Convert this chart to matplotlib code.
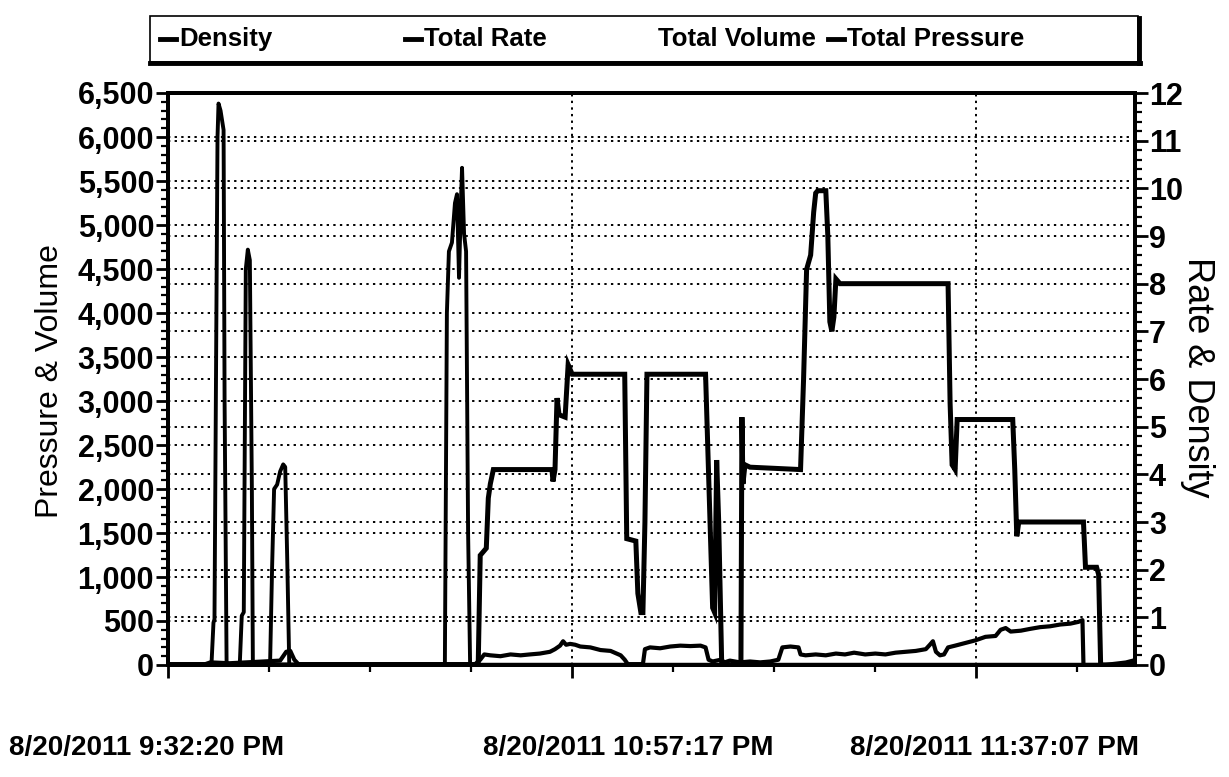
import matplotlib
matplotlib.use('Agg')
import matplotlib.pyplot as plt
from matplotlib.ticker import FuncFormatter, MultipleLocator, FixedLocator
from matplotlib.lines import Line2D
from matplotlib.patches import Rectangle

plt.rcParams['font.family'] = ['Liberation Sans', 'DejaVu Sans']
plt.rcParams['font.weight'] = 'bold'

# ---------------- data (elapsed minutes from chart start) ----------------
x_tick_labels = ["8/20/2011 9:32:20 PM", "8/20/2011 10:57:17 PM", "8/20/2011 11:37:07 PM"]

pressure_t = [0, 4.3, 4.5, 4.6, 4.9, 5.0, 5.2, 5.5, 5.6, 5.8, 7.1, 7.3, 7.5, 7.7, 7.9, 8.1, 8.3, 8.4,
              10.1, 10.3, 10.5, 10.8, 11.1, 11.4, 11.6, 11.8, 12.0,
              27.4, 27.6, 27.8, 28.1, 28.4, 28.6, 28.8, 29.0, 29.1, 29.3, 29.5, 29.7, 29.9, 95.7]
pressure_v = [0, 0, 480, 520, 6000, 6380, 6300, 6080, 3000, 0, 0, 560, 600, 4500, 4720, 4600, 2000, 0,
              0, 1100, 2000, 2050, 2200, 2280, 2250, 1200, 0,
              0, 4000, 4700, 4800, 5250, 5350, 4400, 5300, 5650, 4900, 4700, 1500, 0, 0]

rate_t = [0, 30.7, 30.9, 31.5, 31.7, 31.9, 32.2, 38.0, 38.1, 38.3, 38.5, 38.7, 39.3, 39.6, 40.0,
          45.2, 45.4, 46.3, 46.5, 46.8, 47.0, 47.2, 47.4, 53.2, 53.9, 54.1, 54.3, 54.5, 54.8,
          56.7, 56.8, 56.9, 57.1, 57.6, 62.6, 62.9, 63.2, 63.6, 63.9, 64.1, 64.3, 65.1, 65.3,
          65.5, 65.7, 65.9, 66.1, 66.5, 77.2, 77.4, 77.6, 77.9, 78.1, 83.6, 83.8, 84.0, 84.2,
          90.6, 90.8, 91.9, 92.1, 92.3, 95.7]
rate_v = [0, 0, 2.3, 2.45, 3.5, 3.8, 4.1, 4.1, 3.85, 4.1, 5.6, 5.25, 5.2, 6.3, 6.1,
          6.1, 2.65, 2.6, 1.5, 1.1, 1.1, 3.0, 6.1, 6.1, 1.2, 1.1, 4.3, 3.0, 0,
          0, 5.2, 3.8, 4.2, 4.15, 4.1, 6.0, 8.3, 8.6, 9.5, 9.9, 9.95, 9.95, 9.0,
          7.2, 7.0, 7.3, 8.1, 8.0, 8.0, 5.5, 4.2, 4.1, 5.15, 5.15, 4.1, 2.7, 3.0,
          3.0, 2.05, 2.05, 1.9, 0, 0]

volume_t = [0, 3.7, 4.2, 6.1, 11.1, 11.7, 12.1, 12.5, 12.9, 26.9, 30.4, 30.9, 31.3, 31.9, 32.9,
            33.9, 34.9, 35.8, 36.8, 37.8, 38.3, 38.8, 39.1, 39.4, 39.8, 40.3, 40.8, 41.8, 42.8,
            43.8, 44.8, 45.2, 45.5, 47.0, 47.2, 47.7, 48.7, 49.7, 50.7, 51.7, 52.7, 53.2, 53.5,
            53.9, 54.7, 55.1, 55.6, 56.6, 57.6, 58.6, 59.6, 60.4, 60.8, 61.6, 62.4, 62.6, 63.1,
            64.1, 65.1, 66.1, 67.0, 67.9, 69.0, 70.0, 71.0, 72.0, 73.0, 74.0, 75.0, 75.4, 75.7,
            76.0, 76.4, 76.8, 77.2, 77.9, 78.9, 79.9, 80.9, 81.9, 82.4, 82.9, 83.4, 84.4, 85.3,
            86.3, 87.3, 88.3, 89.3, 90.1, 90.5, 90.6, 95.7]
volume_v = [10, 10, 30, 20, 50, 150, 160, 60, 10, 10, 10, 60, 120, 110, 100,
            120, 110, 120, 130, 150, 180, 220, 270, 230, 240, 230, 210, 200, 170,
            160, 110, 60, 10, 10, 180, 200, 190, 210, 220, 215, 220, 200, 60,
            40, 60, 30, 50, 30, 40, 30, 40, 60, 200, 210, 200, 120, 110,
            120, 110, 130, 120, 140, 120, 130, 120, 140, 150, 160, 180, 230, 270,
            150, 110, 120, 200, 220, 250, 280, 320, 330, 400, 420, 380, 390, 410,
            430, 440, 460, 470, 490, 510, 0, 0]

density_t = [0, 92.8, 94.8, 95.7]
density_v = [0, 0, 0.05, 0.1]

legend_labels = ["Density", "Total Rate", "Total Volume", "Total Pressure"]

# ---------------- figure ----------------
W, H = 1229, 777
fig = plt.figure(figsize=(W / 100, H / 100), dpi=100)
ax = fig.add_axes([168 / W, 1 - 665 / H, (1135 - 168) / W, (665 - 93) / H])
ax2 = ax.twinx()

FS_TICK = 22
FS_X = 20
FS_LEG = 18.5

ax.plot(volume_t, volume_v, color='black', lw=3.0, zorder=3)
ax.plot(pressure_t, pressure_v, color='black', lw=2.8, zorder=3)
ax2.plot(rate_t, rate_v, color='black', lw=3.6, zorder=3, solid_joinstyle='miter')
ax2.plot(density_t, density_v, color='black', lw=3.2, zorder=3)

ax.set_xlim(0, 95.7)
ax.set_ylim(0, 6500)
ax2.set_ylim(0, 12)

ax.yaxis.set_major_locator(MultipleLocator(500))
ax.yaxis.set_minor_locator(MultipleLocator(100))
ax.yaxis.set_major_formatter(FuncFormatter(lambda v, p: f"{int(v):,}"))
ax2.yaxis.set_major_locator(MultipleLocator(1))
ax2.yaxis.set_minor_locator(MultipleLocator(0.2))

ax.xaxis.set_major_locator(FixedLocator([0, 40, 80]))
ax.xaxis.set_minor_locator(MultipleLocator(10))
ax.set_xticklabels([])

for a in (ax, ax2):
    a.tick_params(which='major', direction='out', length=9, width=2, labelsize=FS_TICK, pad=1)
    a.tick_params(which='minor', direction='out', length=5, width=1.6)
    for s in a.spines.values():
        s.set_linewidth(2.8)

dots = (0, (1.2, 2.2))
ax.grid(True, axis='y', which='major', color='black', ls=dots, lw=1.4)
ax.grid(True, axis='x', which='major', color='black', ls=dots, lw=1.4)
ax2.grid(True, axis='y', which='major', color='black', ls=dots, lw=1.4)
ax.set_axisbelow(True)
ax2.set_axisbelow(True)

# axis titles
fig.text(50 / W, 1 - 381 / H, "Pressure & Volume", fontsize=23, fontweight='normal',
         rotation=90, ha='center', va='center')
fig.text(1197 / W, 1 - 377 / H, "Rate & Density", fontsize=26, fontweight='normal',
         rotation=-90, ha='center', va='center')

# x labels
for lab, cx in zip(x_tick_labels, [147, 628, 995]):
    fig.text(cx / W, 1 - 748 / H, lab, fontsize=FS_X, ha='center', va='center')

# legend box
fig.add_artist(Rectangle((150 / W, 1 - 62 / H), (1138 - 150) / W, (62 - 16) / H,
                         transform=fig.transFigure, fill=False, lw=1.2, ec='black'))
fig.add_artist(Line2D([150 / W, 1140 / W], [1 - 63 / H, 1 - 63 / H], transform=fig.transFigure,
                      color='black', lw=3.5))
fig.add_artist(Line2D([1139 / W, 1139 / W], [1 - 63 / H, 1 - 18 / H], transform=fig.transFigure,
                      color='black', lw=3.5))
ly = 1 - 39 / H
items = [(160, True, legend_labels[0]), (405, True, legend_labels[1]),
         (658, False, legend_labels[2]), (828, True, legend_labels[3])]
for px, has_line, lab in items:
    tx = px
    if has_line:
        fig.add_artist(Line2D([px / W, (px + 16) / W], [ly, ly], transform=fig.transFigure,
                              color='black', lw=3.5))
        tx = px + 19
    fig.text(tx / W, ly, lab, fontsize=FS_LEG, ha='left', va='center')

fig.savefig('out.png', dpi=100)
